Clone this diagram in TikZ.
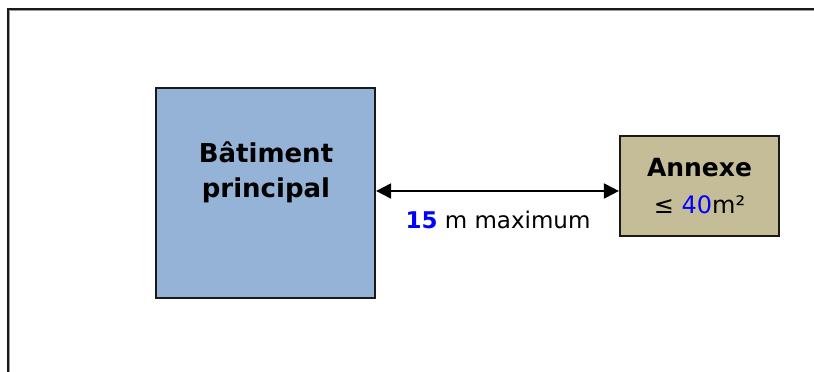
\documentclass[tikz,border=0pt]{standalone}
\usepackage{fontspec}
\setmainfont{DejaVu Sans}
\usetikzlibrary{arrows.meta}
\definecolor{mainblue}{HTML}{95B3D7}
\definecolor{annexetan}{HTML}{C4BD97}
\definecolor{numblue}{HTML}{0000FF}
\definecolor{framegray}{HTML}{1A1A1A}
\tikzset{
  building/.style={draw=black!90, line width=2.2pt, fill=#1, inner sep=0pt},
  boldlabel/.style={font=\bfseries\fontsize{26}{35}\selectfont, align=center, inner sep=0pt},
  distarrow/.style={line width=2pt, {Triangle[length=15pt,width=15pt]}-{Triangle[length=15pt,width=15pt]}},
}
\begin{document}
\begin{tikzpicture}[x=1pt,y=-1pt]
\useasboundingbox (0,0) rectangle (814,372);
\clip (0,0) rectangle (814,372);
\draw[line width=2pt, framegray] (7.5,400) -- (7.5,8.5) -- (830,8.5);
\draw[line width=0.8pt, black!40] (9.5,400) -- (9.5,10.5) -- (830,10.5);
\node[building=mainblue, minimum width=219pt, minimum height=210pt] (main) at (265.5,193) {};
\node[boldlabel, anchor=base] (maintext) at (266,197) {Bâtiment\\principal};
\node[building=annexetan, minimum width=159pt, minimum height=100pt, align=center,
      font=\fontsize{24}{37}\selectfont] (annexe) at (699.5,186)
  {\textbf{\fontsize{25}{37}\selectfont Annexe}\\≤ \textcolor{numblue}{40}m²};
\draw[distarrow] (main.east |- 0,191) -- (annexe.west |- 0,191);
\node[anchor=base, inner sep=0pt, font=\fontsize{23}{28}\selectfont] (dist) at (498,228)
  {\textcolor{numblue}{\textbf{15}} m maximum};
\end{tikzpicture}
\end{document}
